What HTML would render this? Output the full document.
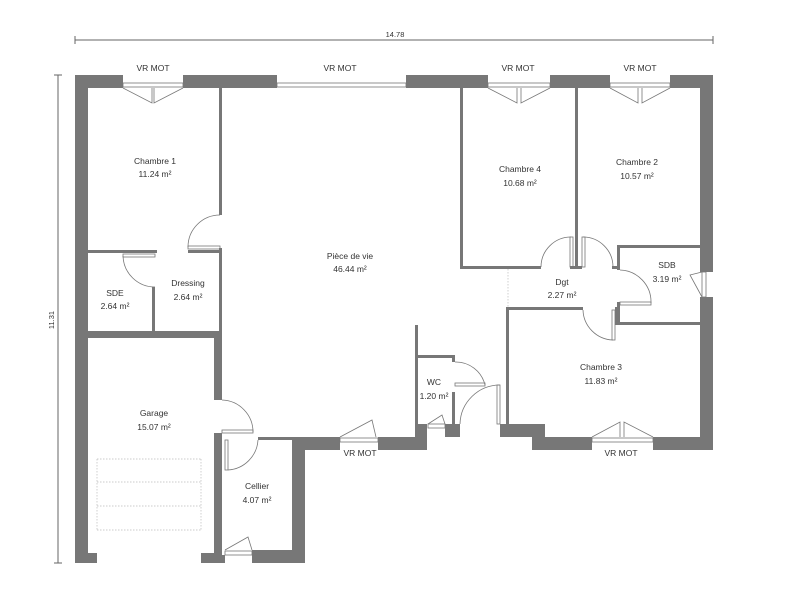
<!DOCTYPE html>
<html><head><meta charset="utf-8"><style>
html,body{margin:0;padding:0;background:#fff;}
svg{display:block;font-family:"Liberation Sans",sans-serif;}
text{font-size:8.5px;fill:#333;text-anchor:middle;}
</style></head><body>
<svg width="805" height="600" viewBox="0 0 805 600">
<!-- dimension lines -->
<g stroke="#666" stroke-width="1" fill="none">
<line x1="75" y1="40" x2="713" y2="40"/><line x1="75" y1="36" x2="75" y2="44"/><line x1="713" y1="36" x2="713" y2="44"/>
<line x1="58" y1="75" x2="58" y2="563"/><line x1="54" y1="75" x2="62" y2="75"/><line x1="54" y1="563" x2="62" y2="563"/>
</g>
<text x="395" y="37" style="font-size:7.5px">14.78</text>
<text x="0" y="0" style="font-size:7.5px" transform="translate(54,320) rotate(-90)">11.31</text>

<!-- thick walls -->
<g fill="#777">
<rect x="75" y="75" width="48" height="13"/>
<rect x="183" y="75" width="94" height="13"/>
<rect x="406" y="75" width="82" height="13"/>
<rect x="550" y="75" width="60" height="13"/>
<rect x="670" y="75" width="43" height="13"/>
<rect x="75" y="75" width="13" height="488"/>
<rect x="700" y="75" width="13" height="197"/>
<rect x="700" y="297" width="13" height="153"/>
<rect x="75" y="331" width="147" height="7"/>
<rect x="214" y="331" width="8" height="69"/>
<rect x="214" y="433" width="8" height="130"/>
<rect x="75" y="553" width="22" height="10"/>
<rect x="201" y="553" width="21" height="10"/>
<rect x="252" y="550" width="53" height="13"/>
<rect x="222" y="555" width="3" height="8"/>
<rect x="292" y="437" width="13" height="126"/>
<rect x="292" y="437" width="48" height="13"/>
<rect x="378" y="437" width="49" height="13"/>
<rect x="415" y="424" width="12" height="26"/>
<rect x="445" y="424" width="15" height="13"/>
<rect x="500" y="424" width="45" height="13"/>
<rect x="532" y="437" width="60" height="13"/>
<rect x="653" y="437" width="60" height="13"/>
</g>
<!-- thin walls -->
<g fill="#777">
<rect x="219" y="88" width="3" height="127"/>
<rect x="219" y="248" width="3" height="84"/>
<rect x="88" y="250" width="69" height="3"/>
<rect x="188" y="250" width="32" height="3"/>
<rect x="152" y="287" width="3" height="45"/>
<rect x="258" y="437" width="34" height="3"/>
<rect x="415" y="325" width="3" height="100"/>
<rect x="415" y="355" width="40" height="3"/>
<rect x="452" y="355" width="3" height="7"/>
<rect x="452" y="392" width="3" height="33"/>
<rect x="506" y="308" width="3" height="116"/>
<rect x="460" y="88" width="3" height="181"/>
<rect x="460" y="266" width="81" height="3"/>
<rect x="575" y="88" width="3" height="181"/>
<rect x="570" y="266" width="12" height="3"/>
<rect x="612" y="266" width="6" height="3"/>
<rect x="506" y="307" width="77" height="3"/>
<rect x="615" y="307" width="3" height="18"/>
<rect x="617" y="245" width="83" height="3"/>
<rect x="617" y="245" width="3" height="25"/>
<rect x="617" y="302" width="3" height="23"/>
<rect x="617" y="322" width="83" height="3"/>
</g>
<!-- dotted boundary -->
<g stroke="#bbb" stroke-width="0.7" stroke-dasharray="1.5,1.5" fill="none">
<line x1="508" y1="269" x2="508" y2="307"/>
<line x1="97" y1="459" x2="201" y2="459"/><line x1="97" y1="482" x2="201" y2="482"/>
<line x1="97" y1="506" x2="201" y2="506"/><line x1="97" y1="530" x2="201" y2="530"/>
<line x1="97" y1="459" x2="97" y2="530"/><line x1="201" y1="459" x2="201" y2="530"/>
</g>
<!-- windows -->
<g fill="#fff" stroke="#777" stroke-width="0.8">
<rect x="123" y="83" width="60" height="4"/>
<rect x="277" y="83" width="129" height="4"/>
<rect x="488" y="83" width="62" height="4"/>
<rect x="610" y="83" width="60" height="4"/>
<rect x="340" y="438" width="38" height="4"/>
<rect x="592" y="438" width="61" height="4"/>
<rect x="225" y="551" width="27" height="4"/>
<rect x="428" y="424" width="17" height="4"/>
<rect x="702" y="272" width="4" height="25"/>
</g>
<!-- door leaves & arcs -->
<g fill="none" stroke="#777" stroke-width="0.8">
<path d="M123 88 L152 103 L152 88 M183 88 L154 103 L154 88"/>
<path d="M488 88 L517 103 L517 88 M550 88 L521 103 L521 88"/>
<path d="M610 88 L638 103 L638 88 M670 88 L642 103 L642 88"/>
<path d="M592 437 L620 422 L620 437 M653 437 L624 422 L624 437"/>
<path d="M340 437 L372 420 L376 437"/>
<path d="M225 550 L248 537 L252 550"/>
<path d="M428 424 L442 415 L445 424"/>
<path d="M702 297 L690 275 L702 272"/>
<rect x="188" y="246" width="32" height="3"/><path d="M188 247 A32 32 0 0 1 220 215"/>
<rect x="123" y="254" width="32" height="3"/><path d="M123 256 A32 32 0 0 0 155 287"/>
<rect x="222" y="430" width="31" height="3"/><path d="M222 400 A32 32 0 0 1 253 432"/>
<rect x="225" y="440" width="3" height="30"/><path d="M228 470 A32 32 0 0 0 258 440"/>
<rect x="455" y="383" width="30" height="3"/><path d="M455 362 A30 30 0 0 1 485 385"/>
<rect x="497" y="385" width="3" height="39"/><path d="M460 424 A40 40 0 0 1 500 385"/>
<rect x="570" y="237" width="3" height="30"/><path d="M541 267 A30 30 0 0 1 571 237"/>
<rect x="582" y="237" width="3" height="30"/><path d="M583 237 A30 30 0 0 1 613 267"/>
<rect x="620" y="302" width="31" height="3"/><path d="M620 270 A32 32 0 0 1 651 303"/>
<rect x="612" y="310" width="3" height="30"/><path d="M583 310 A31 31 0 0 0 613 340"/>
</g>
<!-- labels -->
<text x="153" y="71">VR MOT</text><text x="340" y="71">VR MOT</text>
<text x="518" y="71">VR MOT</text><text x="640" y="71">VR MOT</text>
<text x="360" y="456">VR MOT</text><text x="621" y="456">VR MOT</text>
<text x="155" y="164">Chambre 1</text><text x="155" y="177">11.24 m²</text>
<text x="350" y="259">Pièce de vie</text><text x="350" y="272">46.44 m²</text>
<text x="520" y="172">Chambre 4</text><text x="520" y="186">10.68 m²</text>
<text x="637" y="165">Chambre 2</text><text x="637" y="179">10.57 m²</text>
<text x="115" y="296">SDE</text><text x="115" y="309">2.64 m²</text>
<text x="188" y="286">Dressing</text><text x="188" y="300">2.64 m²</text>
<text x="562" y="285">Dgt</text><text x="562" y="298">2.27 m²</text>
<text x="667" y="268">SDB</text><text x="667" y="282">3.19 m²</text>
<text x="434" y="385">WC</text><text x="434" y="399">1.20 m²</text>
<text x="601" y="370">Chambre 3</text><text x="601" y="384">11.83 m²</text>
<text x="154" y="416">Garage</text><text x="154" y="430">15.07 m²</text>
<text x="257" y="489">Cellier</text><text x="257" y="503">4.07 m²</text>
</svg>
</body></html>
